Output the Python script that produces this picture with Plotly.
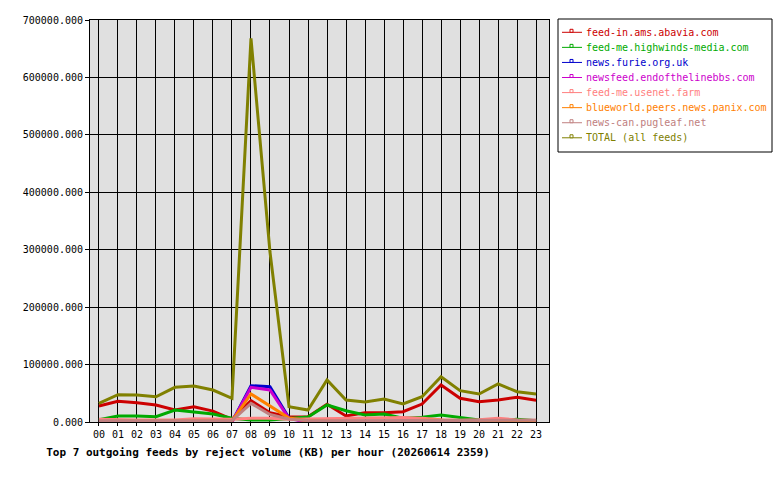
import plotly.graph_objects as go

hours = ["%02d" % h for h in range(24)]

series_names = [
    "feed-in.ams.abavia.com",
    "feed-me.highwinds-media.com",
    "news.furie.org.uk",
    "newsfeed.endofthelinebbs.com",
    "feed-me.usenet.farm",
    "blueworld.peers.news.panix.com",
    "news-can.pugleaf.net",
    "TOTAL (all feeds)",
]

abavia = [27900, 36000, 33600, 29600, 20900, 26600, 19000, 4500, 37100, 16000, 8700, 9200,
          30800, 10400, 16200, 16200, 18000, 31300, 64400, 41200, 35400, 38300, 43000, 37800]
highwinds = [4000, 10400, 10400, 9200, 20900, 16800, 13900, 6400, 3500, 3500, 6400, 8700,
             29600, 19700, 12200, 13900, 6400, 8200, 12200, 8200, 3500, 2000, 4700, 2000]
furie = [0, 0, 0, 0, 0, 0, 0, 0, 63200, 61500, 7000, 0,
         0, 0, 0, 0, 0, 0, 0, 0, 0, 0, 0, 0]
endofline = [0, 0, 0, 0, 0, 0, 0, 0, 60400, 55700, 6000, 0,
             0, 0, 0, 0, 2000, 4000, 2000, 0, 0, 0, 0, 0]
usenet = [4700, 3500, 3500, 3500, 3500, 5800, 5500, 5000, 6400, 6400, 5000, 5500,
          7000, 7500, 7500, 8000, 8000, 6400, 4000, 3000, 4000, 6400, 3500, 3000]
panix = [1000, 1000, 1000, 1000, 1000, 1000, 1000, 2000, 48800, 27900, 7000, 2000,
         1000, 1000, 1000, 1000, 1000, 3000, 3000, 1000, 1000, 1000, 1000, 1000]
pugleaf = [2000, 2000, 2000, 2000, 2000, 2000, 2000, 2500, 32500, 13000, 5000, 2500,
           2000, 2000, 2000, 2000, 2000, 2000, 2000, 3000, 3000, 3000, 3000, 3000]
total = [32500, 47500, 47000, 44000, 60400, 62700, 55700, 41200, 668000, 296000, 26600, 20900,
         73100, 38300, 34800, 40000, 31300, 44000, 78900, 54500, 48800, 66200, 52800, 48800]

series_values = [abavia, highwinds, furie, endofline, usenet, panix, pugleaf, total]
colors = ["#cc0000", "#00aa00", "#0000cc", "#cc00cc", "#ff8080", "#ff8000", "#c08080", "#808000"]

y_ticks = [0, 100000, 200000, 300000, 400000, 500000, 600000, 700000]

FONT = "DejaVu Sans Mono"
x_idx = list(range(len(hours)))

# plot area in pixels
L, R, T, B = 90, 549, 20, 422
W, H = 780, 480


def px_x(px):
    return (px - L) / (R - L)


def px_y(py):
    return (B - py) / (B - T)


fig = go.Figure()
for name, vals, col in zip(series_names, series_values, colors):
    fig.add_trace(go.Scatter(
        x=x_idx, y=vals, mode="lines", name=name, showlegend=False,
        line=dict(color=col, width=3), hoverinfo="skip",
    ))

# custom legend box (to match the compact original legend)
shapes = [dict(type="rect", xref="paper", yref="paper",
               x0=px_x(558), x1=px_x(772), y0=px_y(152), y1=px_y(19),
               line=dict(color="black", width=1), fillcolor="white", layer="above")]
annotations = []
for i, (name, col) in enumerate(zip(series_names, colors)):
    yc = 32.3 + 15.07 * i
    shapes.append(dict(type="line", xref="paper", yref="paper",
                       x0=px_x(562), x1=px_x(582), y0=px_y(yc), y1=px_y(yc),
                       line=dict(color=col, width=1), layer="above"))
    shapes.append(dict(type="rect", xref="paper", yref="paper",
                       x0=px_x(570), x1=px_x(573), y0=px_y(yc), y1=px_y(yc - 3),
                       line=dict(color=col, width=1), fillcolor="white", layer="above"))
    annotations.append(dict(xref="paper", yref="paper", x=px_x(584), y=px_y(yc),
                            xanchor="left", yanchor="middle", showarrow=False,
                            text=name, font=dict(family=FONT, size=10, color=col)))

fig.update_layout(
    width=W, height=H,
    margin=dict(l=L, r=W - R, t=T, b=H - B, pad=0),
    paper_bgcolor="white", plot_bgcolor="#e0e0e0",
    font=dict(family=FONT, size=10, color="black"),
    showlegend=False,
    title=dict(
        text="<b>Top 7 outgoing feeds by reject volume (KB) per hour (20260614 2359)</b>",
        x=268 / W, xanchor="center", xref="container",
        y=1 - 452 / H, yanchor="middle", yref="container",
        font=dict(family=FONT, size=11, color="black"),
    ),
    shapes=shapes,
    annotations=annotations,
)
fig.update_xaxes(
    range=[-0.47, 23.68], tickmode="array", tickvals=x_idx, ticktext=hours,
    showgrid=True, gridcolor="black", gridwidth=1,
    showline=True, linecolor="black", linewidth=1, mirror=True,
    ticks="outside", ticklen=3, tickcolor="black", zeroline=False,
    tickfont=dict(family=FONT, size=10), fixedrange=True,
)
fig.update_yaxes(
    range=[0, 700000], tickmode="array", tickvals=y_ticks,
    ticktext=["%.3f" % v for v in y_ticks],
    showgrid=True, gridcolor="black", gridwidth=1,
    showline=True, linecolor="black", linewidth=1, mirror=True,
    ticks="outside", ticklen=4, tickcolor="black", zeroline=False,
    tickfont=dict(family=FONT, size=10), fixedrange=True,
)

fig.write_html("out.html")
